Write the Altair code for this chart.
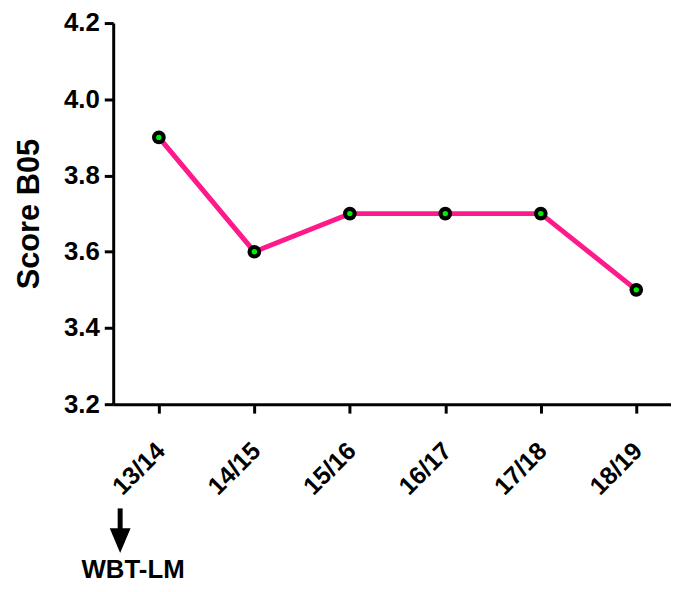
import altair as alt
import pandas as pd

seasons = ["13/14", "14/15", "15/16", "16/17", "17/18", "18/19"]
scores = [3.9, 3.6, 3.7, 3.7, 3.7, 3.5]
y_ticks = [3.2, 3.4, 3.6, 3.8, 4.0, 4.2]
annotation_label = "WBT-LM"

df = pd.DataFrame({"season": seasons, "score": scores})

W, H = 562, 384
FONT = "Liberation Sans"

x_enc = alt.X(
    "season:N",
    sort=seasons,
    scale=alt.Scale(type="point", padding=0.421, align=0.568),
    axis=alt.Axis(
        title=None,
        labelAngle=-45,
        labelFont=FONT,
        labelFontWeight="bold",
        labelFontSize=25,
        labelColor="black",
        labelPadding=25,
        labelOffset=-7,
        tickSize=9,
    ),
)
y_enc = alt.Y(
    "score:Q",
    scale=alt.Scale(domain=[3.2, 4.2], nice=False, zero=False),
    axis=alt.Axis(
        title="Score B05",
        values=y_ticks,
        format=".1f",
        labelFont=FONT,
        labelFontWeight="bold",
        labelFontSize=26,
        labelColor="black",
        labelPadding=5,
        tickSize=9,
        titleFont=FONT,
        titleFontWeight="bold",
        titleFontSize=31,
        titleColor="black",
        titleAngle=270,
        titleAlign="center",
        titleBaseline="middle",
        titleX=-84,
        titleY=H / 2,
    ),
)

base = alt.Chart(df).encode(x=x_enc, y=y_enc)

line = base.mark_line(color="#FF1A8C", strokeWidth=5)
outer = base.mark_point(filled=True, color="black", size=190, opacity=1)
inner = base.mark_point(filled=True, color="#00EE00", size=30, opacity=1)

one = alt.Data(values=[{}])
shaft = alt.Chart(one).mark_rule(color="black", strokeWidth=5).encode(
    x=alt.value(7), y=alt.value(489), y2=alt.value(511)
)
head = alt.Chart(one).mark_point(
    filled=True, color="black", opacity=1,
    shape="M-0.84,-1 L0.84,-1 L0,1 Z", size=625
).encode(x=alt.value(7), y=alt.value(521.5))
label = alt.Chart(one).mark_text(
    text=annotation_label, font=FONT, fontWeight="bold", fontSize=26,
    color="black", align="center", baseline="alphabetic"
).encode(x=alt.value(20), y=alt.value(559))

chart = alt.layer(line, outer, inner, shaft, head, label).properties(
    width=W,
    height=H,
    autosize=alt.AutoSizeParams(type="none"),
    padding={"left": 106, "top": 13, "right": 0, "bottom": 179},
).configure_view(stroke=None).configure_axis(
    grid=False,
    domainColor="black",
    domainWidth=3,
    tickColor="black",
    tickWidth=3,
)

chart.save("out.html", embed_options={"renderer": "svg", "actions": False})
